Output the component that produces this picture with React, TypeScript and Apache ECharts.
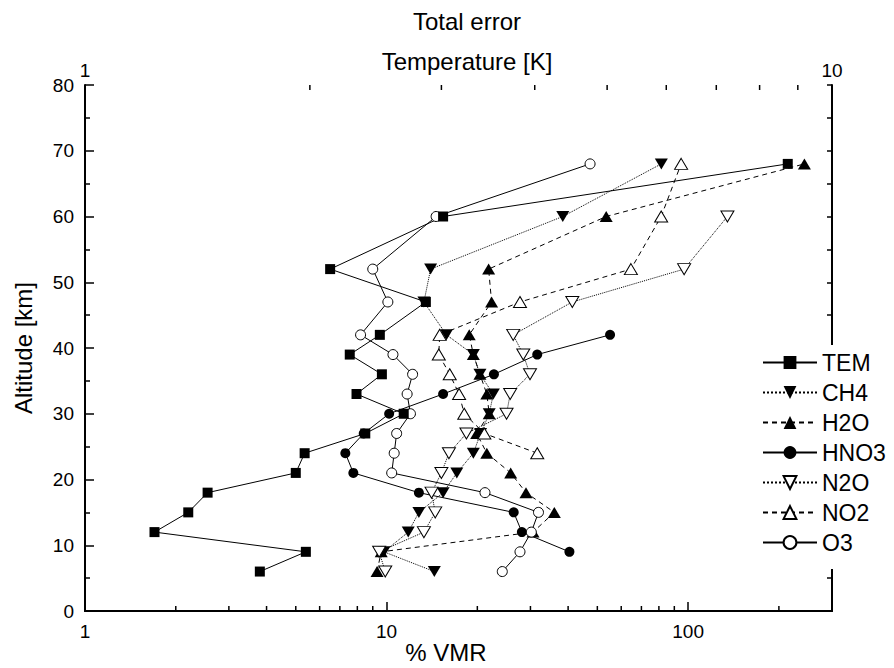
import React, { useEffect, useRef } from 'react';
import * as echarts from 'echarts';

// Altitude levels [km]
const ALTITUDES = [6, 9, 12, 15, 18, 21, 24, 27, 30, 33, 36, 39, 42, 47, 52, 60, 68];

// Total error [% VMR]
const TEM = [3.8, 5.4, 1.7, 2.2, 2.55, 5.0, 5.35, 8.5, 11.4, 7.95, 9.65, 7.55, 9.5, 13.5, 6.5, 15.4, 214];
const CH4 = [14.4, 9.8, 11.8, 12.8, 15.4, 17.1, 19.4, 20.5, 21.9, 22.6, 20.4, 19.4, 15.8, 13.3, 14.0, 38.4, 81.5];
const H2O = [9.3, 9.6, 30.6, 36.0, 29.0, 25.8, 21.5, 19.9, 21.9, 21.5, 20.4, 19.4, 18.8, 22.3, 21.8, 53.5, 243];
const HNO3 = [null, 40.4, 28.1, 26.4, 12.8, 7.76, 7.3, 8.4, 10.2, 15.4, 22.7, 31.6, 55.1, null, null, null, null];
const N2O = [9.9, 9.45, 13.3, 14.5, 14.1, 15.2, 16.1, 18.4, 25.0, 25.7, 29.9, 28.4, 26.3, 41.3, 97, 135, null];
const NO2 = [null, null, null, null, null, null, 31.6, 21.1, 18.1, 17.4, 16.2, 14.9, 15.0, 27.7, 64.6, 81.4, 94.8];
const O3 = [24.2, 27.7, 30.2, 31.9, 21.2, 10.4, 10.6, 10.8, 12.0, 11.7, 12.2, 10.5, 8.2, 10.1, 9.0, 14.6, 47.3];

const LEGEND_ORDER = ['TEM', 'CH4', 'H2O', 'HNO3', 'N2O', 'NO2', 'O3'];
const BOTTOM_LABELS = [1, 10, 100];
const BOTTOM_MINOR_TICKS = [2, 3, 4, 5, 6, 7, 8, 9, 20, 30, 40, 50, 60, 70, 80, 90, 200];
const TOP_MINOR_TICKS = [2, 3, 4, 5, 6, 7, 8, 9];

const FONT = '"Liberation Sans", Arial, Helvetica, sans-serif';
const DOWN_TRI = 'path://M0,0 L12,0 L6,10 Z';

function pairs(vals: (number | null)[]) {
  const out: number[][] = [];
  ALTITUDES.forEach((a, i) => {
    const v = vals[i];
    if (v != null) out.push([v, a]);
  });
  return out;
}

type Spec = { name: string; vals: (number | null)[]; symbol: string; size: number | number[]; filled: boolean; line: any };

const SPECS: Spec[] = [
  { name: 'CH4', vals: CH4, symbol: DOWN_TRI, size: [13, 11], filled: true, line: 'dotted' },
  { name: 'H2O', vals: H2O, symbol: 'triangle', size: [13, 11], filled: true, line: [5, 4] },
  { name: 'HNO3', vals: HNO3, symbol: 'circle', size: 10, filled: true, line: 'solid' },
  { name: 'N2O', vals: N2O, symbol: DOWN_TRI, size: [13, 11], filled: false, line: 'dotted' },
  { name: 'NO2', vals: NO2, symbol: 'triangle', size: [13, 11], filled: false, line: [5, 4] },
  { name: 'O3', vals: O3, symbol: 'circle', size: 10, filled: false, line: 'solid' },
  { name: 'TEM', vals: TEM, symbol: 'rect', size: 10, filled: true, line: 'solid' },
];

export default function App() {
  const ref = useRef<HTMLDivElement>(null);

  useEffect(() => {
    document.body.style.margin = '0';
    if (!ref.current) return;
    const chart = echarts.init(ref.current, null, { renderer: 'svg' });

    const lineSeries = SPECS.map((s) => ({
      type: 'line',
      name: s.name,
      data: pairs(s.vals),
      xAxisIndex: 0,
      yAxisIndex: 0,
      symbol: s.symbol,
      symbolSize: s.size,
      showAllSymbol: true,
      lineStyle: { color: '#000', width: 1, type: s.line },
      itemStyle: s.filled
        ? { color: '#000', borderColor: '#000', borderWidth: 0 }
        : { color: '#fff', borderColor: '#000', borderWidth: 1 },
      emphasis: { disabled: true },
      z: 3,
    }));

    const bottomMinor = {
      type: 'custom',
      xAxisIndex: 0,
      yAxisIndex: 0,
      silent: true,
      data: BOTTOM_MINOR_TICKS.map((v) => [v, 0]),
      encode: { x: 0, y: 1 },
      renderItem: (_p: any, api: any) => {
        const p = api.coord([api.value(0), api.value(1)]);
        return {
          type: 'line',
          shape: { x1: p[0], y1: p[1], x2: p[0], y2: p[1] - 5 },
          style: { stroke: '#000', lineWidth: 1.5 },
        };
      },
      z: 2,
    };

    const topMinor = {
      type: 'custom',
      xAxisIndex: 1,
      yAxisIndex: 0,
      silent: true,
      data: TOP_MINOR_TICKS.map((v) => [v, 80]),
      encode: { x: 0, y: 1 },
      renderItem: (_p: any, api: any) => {
        const p = api.coord([api.value(0), api.value(1)]);
        return {
          type: 'line',
          shape: { x1: p[0], y1: p[1], x2: p[0], y2: p[1] + 5 },
          style: { stroke: '#000', lineWidth: 1.5 },
        };
      },
      z: 2,
    };

    const axisLine = { show: true, lineStyle: { color: '#000', width: 2 } };
    const labelStyle = { color: '#000', fontSize: 19, fontFamily: FONT };
    const nameStyle = { color: '#000', fontSize: 24, fontFamily: FONT };

    chart.setOption({
      animation: false,
      backgroundColor: '#fff',
      title: {
        text: 'Total error',
        left: 408,
        top: 4,
        textStyle: { color: '#000', fontSize: 24, fontWeight: 'normal', fontFamily: FONT },
      },
      grid: { left: 85, right: 62, top: 85, bottom: 57, containLabel: false, outerBoundsMode: 'none' },
      xAxis: [
        {
          type: 'log',
          logBase: 10,
          min: 1,
          max: 300,
          position: 'bottom',
          name: '% VMR',
          nameLocation: 'middle',
          nameGap: 29,
          nameMoveOverlap: false,
          nameTextStyle: { ...nameStyle, padding: [0, 25, 0, 0] },
          axisLine,
          axisTick: { show: true, inside: true, length: 9, lineStyle: { color: '#000', width: 1.5 } },
          axisLabel: {
            ...labelStyle,
            margin: 11,
            formatter: (v: number) => {
              const r = Math.round(v);
              return BOTTOM_LABELS.includes(r) && Math.abs(v - r) < 1e-6 ? String(r) : '';
            },
          },
          splitLine: { show: false },
        },
        {
          type: 'log',
          logBase: 10,
          min: 1,
          max: 10,
          position: 'top',
          name: 'Temperature [K]',
          nameLocation: 'middle',
          nameGap: 12,
          nameMoveOverlap: false,
          nameTextStyle: { ...nameStyle, padding: [0, 0, 0, 17] },
          axisLine,
          axisTick: { show: false },
          axisLabel: { ...labelStyle, margin: 5 },
          splitLine: { show: false },
        },
      ],
      yAxis: [
        {
          type: 'value',
          min: 0,
          max: 80,
          interval: 10,
          position: 'left',
          name: 'Altitude [km]',
          nameLocation: 'middle',
          nameGap: 50,
          nameMoveOverlap: false,
          nameTextStyle: nameStyle,
          axisLine,
          axisTick: { show: true, inside: true, length: 9, lineStyle: { color: '#000', width: 1.5 } },
          minorTick: { show: true, splitNumber: 2, length: 5, lineStyle: { color: '#000', width: 1.5 } },
          axisLabel: { ...labelStyle, margin: 11 },
          splitLine: { show: false },
          minorSplitLine: { show: false },
        },
        {
          type: 'value',
          min: 0,
          max: 80,
          interval: 10,
          position: 'right',
          axisLine,
          axisTick: { show: true, inside: true, length: 5, lineStyle: { color: '#000', width: 1.5 } },
          minorTick: { show: true, splitNumber: 2, length: 5, lineStyle: { color: '#000', width: 1.5 } },
          axisLabel: { show: false },
          splitLine: { show: false },
          minorSplitLine: { show: false },
        },
      ],
      legend: {
        data: LEGEND_ORDER,
        orient: 'vertical',
        left: 757,
        top: 345,
        itemWidth: 54,
        itemHeight: 16,
        itemGap: 7,
        padding: [6, 12, 15, 5],
        backgroundColor: '#fff',
        selectedMode: false,
        textStyle: { color: '#000', fontSize: 23, fontFamily: FONT },
      },
      series: [...lineSeries, bottomMinor, topMinor],
    });

    return () => {
      chart.dispose();
    };
  }, []);

  return <div ref={ref} style={{ width: 894, height: 668, position: 'absolute', left: 0, top: 0 }} />;
}
